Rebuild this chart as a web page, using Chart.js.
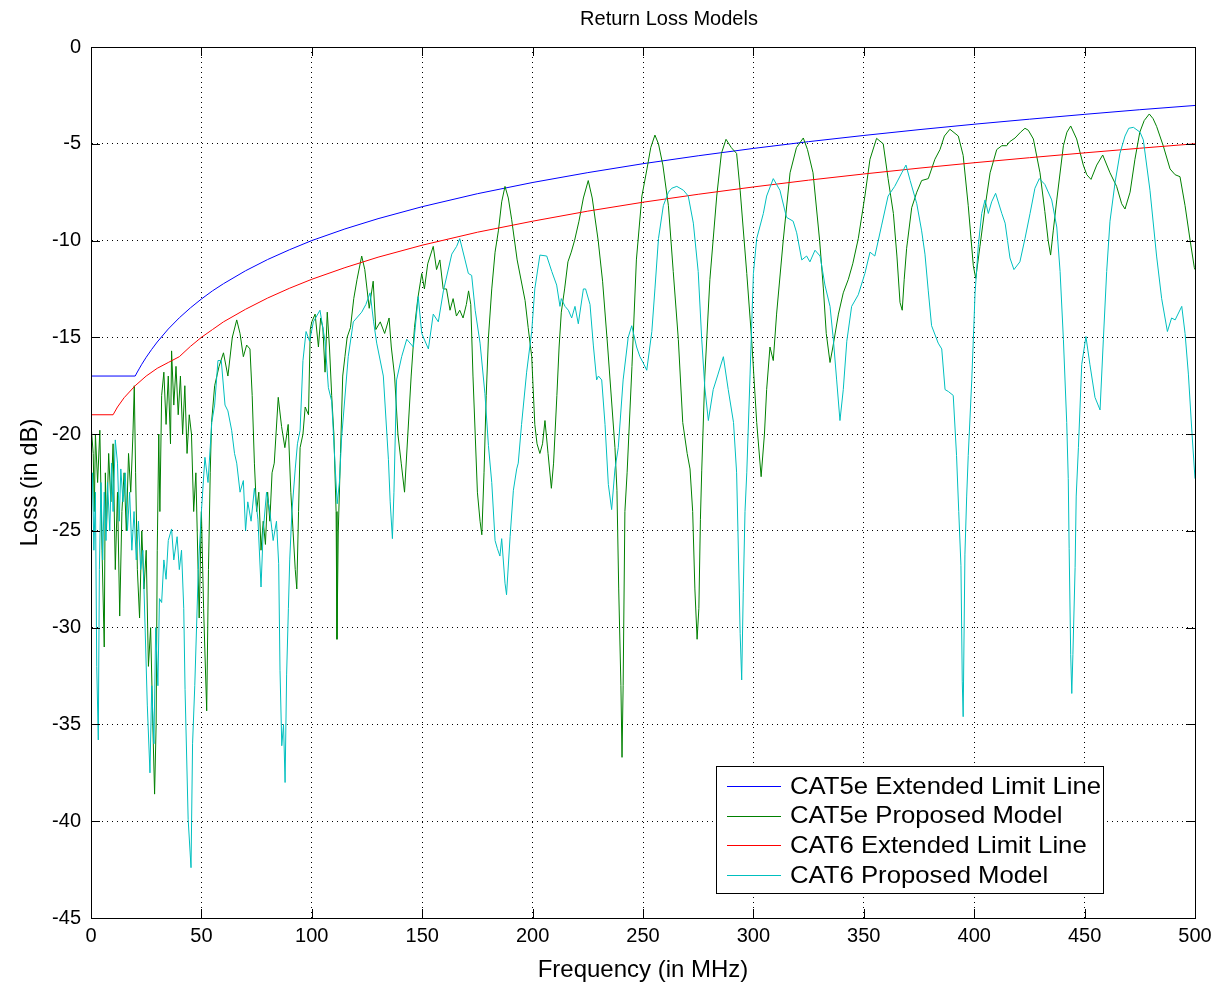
<!DOCTYPE html>
<html>
<head>
<meta charset="utf-8">
<script src="https://cdn.jsdelivr.net/npm/chart.js@4"></script>
<style>
html,body{margin:0;padding:0;background:#fff;}
#wrap{width:1220px;height:987px;position:relative;}
</style>
</head>
<body>
<div id="wrap"><canvas id="c" width="1220" height="987"></canvas></div>
<script>
const chartTitle = "Return Loss Models";
const xTitle = "Frequency (in MHz)";
const yTitle = "Loss (in dB)";
const seriesNames = ["CAT5e Extended Limit Line","CAT5e Proposed Model","CAT6 Extended Limit Line","CAT6 Proposed Model"];
const seriesColors = ["#0000ff","#008000","#ff0000","#00bfbf"];
const xTicks = [0,50,100,150,200,250,300,350,400,450,500];
const yTicks = [0,-5,-10,-15,-20,-25,-30,-35,-40,-45];

// CAT5e limit line
const freq5eLimit = [0,20,21,22,23,25,27.5,30,35,40,45,50,55,60,70,80,90,100,115,130,150,175,200,225,250,275,300,325,350,375,400,425,450,475,500];
const loss5eLimit = [-17,-17,-16.79,-16.59,-16.39,-16.03,-15.62,-15.24,-14.57,-13.99,-13.48,-13.02,-12.6,-12.23,-11.56,-10.98,-10.47,-10.0,-9.4,-8.87,-8.25,-7.58,-7.0,-6.49,-6.03,-5.62,-5.24,-4.89,-4.57,-4.27,-3.99,-3.73,-3.48,-3.24,-3.02];

// CAT6 limit line
const freq6Limit = [0,10,12,15,20,25,30,35,40,45,50,55,60,70,80,90,100,115,130,150,175,200,225,250,275,300,325,350,375,400,425,450,475,500];
const loss6Limit = [-19,-19,-18.6,-18.12,-17.5,-17.0,-16.6,-16.3,-16.0,-15.47,-15.0,-14.6,-14.2,-13.55,-12.97,-12.46,-12.0,-11.4,-10.86,-10.24,-9.57,-9.0,-8.48,-8.02,-7.61,-7.23,-6.88,-6.56,-6.26,-5.98,-5.72,-5.47,-5.23,-5.0];

// CAT5e proposed model
const freq5eModel = [0,1,1.5,2,3,4,5,6,6.5,7,8,9,10,11,12,13,14,15,16,17,18,19,19.6,20.2,21,22,23,24,25,26,27,28,28.8,29.5,30,30.7,31.2,32,33,34,35,36,36.5,37.5,38.5,39.5,40.5,41.5,42.5,43.5,44.5,45.5,46.5,47.5,48.5,49,50,51,52.4,53.2,54,54.6,56,58,60,62,64,66,67.5,69,70.5,72,73,74,75,76,77,78,79,80,81,82,83,84.8,86.3,87.8,89.3,90.5,91.5,92.5,93.2,94,94.7,96,97,98.5,99.3,100,101.5,103,104,105,106,107,108,109,110,111,111.4,112,113,114,115,116,117.5,119,120.5,122.6,124,125,126,127.8,129,131,133,135,136,137.5,139,140.5,142,143.5,145,146.5,148,149.8,151,152.5,155,156.5,158,159.5,161,162.6,164,165.5,167,168.5,170,171,172,173,174,175,176.2,177,178,179,180,181.5,183,184.5,186,187.5,189,190.5,193,196.6,198,199.6,201,202,203.3,204.5,205.6,207,208.5,209.5,211,212,213,214.5,216,217.5,219,221,223,225.2,227,229.7,231.7,234,237.3,238.2,239,240,240.5,241,241.8,242.8,245,247,249.5,251.8,253.5,255.4,257,259,261.5,263.7,266,268,270,271.3,272.5,273.5,274.5,275.3,276,276.6,278,280.3,283.4,285.5,287.6,290,292.4,294,297,299.2,301.5,303.5,305,306,307.5,309,310.5,313.5,316.6,319.5,322.6,324.5,327,330,331.7,333,334.7,336,338.5,340.7,343,345,347.5,350.5,352.8,355.8,358.8,361,363.4,365,366.4,367.4,368.3,369.4,371.7,374,376.2,379.2,382.2,384.5,386.5,389,392.8,395,397.3,399.6,400.7,402.6,405,407.2,410.2,412.5,414.7,416,418.5,421,423,424.5,426.8,429.8,432,433.5,434.6,435.8,437.4,440.4,442,443.7,446.4,449.4,451,452.9,455.5,458.2,461.5,464.5,466.8,468.3,470.6,472.8,475,477,479.3,481,482.6,485.6,488.7,491,493.2,495.5,497.8,499.7,500];
const loss5eModel = [-19.5,-21,-24,-20,-22.5,-19.8,-26,-31,-22,-25,-21,-23.5,-20.5,-27,-23,-29.4,-24,-22,-25,-21,-23,-20,-17.5,-22,-27,-29.5,-25,-28,-26,-32,-30,-35,-38.6,-35,-26,-20,-24,-18,-16.8,-19.5,-17,-20.5,-15.7,-18.5,-16.5,-19,-17,-20,-17.5,-21,-19,-20,-24,-22,-27,-29.5,-24,-29,-34.3,-27,-22,-19.4,-17.5,-16.5,-15.8,-17,-15,-14.1,-14.8,-16,-15.4,-15.6,-18,-21.5,-24,-23,-26,-24.5,-25.7,-23,-24.5,-22,-21.5,-18.1,-19.6,-20.7,-19.5,-23,-25,-27,-28,-24,-20.7,-20,-18.6,-19,-14.6,-14.2,-13.8,-15.5,-14,-14.5,-16.8,-13.7,-15.5,-18,-20,-24,-30.6,-25,-21,-17,-16,-15,-14.5,-13,-12,-10.8,-11.5,-12.5,-13.5,-12.1,-14.6,-14.2,-14.8,-14,-15.5,-17,-20,-21.5,-23,-20,-17,-14.5,-13,-11.7,-12.5,-11.2,-10.3,-11.5,-11,-12.5,-12.5,-13.6,-13,-13.9,-13.6,-14,-13.3,-12.6,-13.3,-17,-20,-23,-24.5,-25.2,-22,-18,-15,-12.5,-10.6,-9.5,-8,-7.2,-7.8,-8.9,-11,-13.1,-14.5,-16,-19.5,-20.5,-21,-20.5,-19.3,-21,-22.8,-21.5,-18,-15.5,-13.7,-12.5,-11.1,-10.6,-10,-9,-7.8,-6.9,-7.8,-10,-12.1,-15.5,-20.7,-22.9,-28,-33,-36.7,-33,-24,-22,-16.5,-11,-7.7,-6.3,-5.2,-4.55,-5,-6.1,-8.2,-11.6,-15.1,-19.4,-21,-21.8,-24,-28,-30.6,-29,-24.4,-21.9,-17,-12,-7.7,-5.5,-4.77,-5.2,-5.5,-7.4,-11.7,-15.1,-19.4,-22.2,-20,-17.7,-15.5,-16.2,-13.8,-10,-6.5,-5.2,-4.7,-5.3,-6.5,-10,-12.5,-14.8,-16.3,-15.5,-13.8,-12.7,-12,-11.2,-9.9,-7.7,-5.8,-4.72,-5,-6.8,-8.6,-10.8,-13.2,-13.6,-12,-10.4,-8.3,-7.5,-6.9,-6.8,-5.8,-5.3,-4.6,-4.25,-4.6,-5.6,-8.2,-11.3,-11.95,-10.3,-8.2,-6.5,-5.3,-5.1,-5.1,-4.9,-4.7,-4.4,-4.2,-4.3,-4.75,-6.5,-8.5,-10,-10.75,-9.5,-7.9,-5.1,-4.4,-4.08,-4.75,-6.1,-6.6,-6.84,-6.1,-5.58,-6.5,-7.2,-8.1,-8.37,-7.5,-5.8,-4.4,-3.8,-3.46,-3.7,-4.1,-5.1,-6.3,-6.6,-6.7,-8.2,-10,-11.4,-11.5];

// CAT6 proposed model
const freq6Model = [0,0.7,1.3,2,2.6,3.3,3.8,4.5,5.3,6,6.8,7.5,8.5,9.3,10,11,12,12.8,13.5,14.5,15.5,16.5,17.5,18.5,19.5,20.5,21.5,22.5,23.5,24.5,25.5,26.7,27.5,28.5,29.3,30.3,31,32,33,34,35,36.5,37.5,39,40,41,42,42.6,44,45.3,46,47,48.6,50,51.6,53,54.7,56,57.5,59,60.7,62,63.7,65,66,67.5,69,70,71,72.5,74,75.6,77,78,79.5,81,82.5,84,85,85.6,86.4,87.2,87.9,88.6,89.4,90,91,92.5,93.5,94.7,96,97.4,99,100.7,103.7,106,107.5,109,110.5,111.5,112.5,113.5,116.5,118.8,122.6,124.5,126.4,128,129.4,132.4,134,134.7,135.5,136.5,137.2,138.4,140.7,143,146,148.2,149.8,152.8,155,157.3,159.6,163.4,165.6,167,169.4,170.9,172.4,174,176.2,178.4,180,181.5,183,184,185.2,186,187.5,188.2,189.8,191.3,192.8,193.5,195,197.3,199.6,201,203.3,206.4,208.7,210.9,212.4,213,214.7,216.2,217.7,219.2,220.7,223,224,226,227.5,229,229.8,231.3,232.8,234.3,235.8,237.3,238.8,241,243.3,244.9,247.1,248.6,250,251.7,254,255.4,257,259.2,261.5,263,265.3,268.3,270.5,272.8,275,276.6,278,279.6,281.8,284,286.4,288.6,291,292.4,293,294,294.7,295.4,296.2,297,298.5,300,301.5,304.5,306,309,312,315,318,319.6,321.9,324.1,325.6,327.9,330.2,332.4,334.7,336.2,337.7,339.2,340.7,342.3,344.5,347.5,350.5,352.8,355,358.1,361,364,367.2,369.1,371,374,376.2,377.7,379.2,380.7,383.7,385.3,386.8,388.3,390.5,392,393,394,394.6,395,395.8,396.6,397.3,398.9,400.4,401.9,403.4,404.9,406.4,407.9,409.7,412.5,414,416.2,418,420.7,423,425.3,427.5,429.5,432,435.1,437.4,438.9,440.4,441.9,442.6,443,443.7,444.2,444.7,445.7,446.2,447.2,448.7,450.6,452.4,454.7,457,458.5,460,461.5,463.8,466,468.3,470,472.1,475.1,476.6,479.6,482.6,484.9,487.5,489.4,491,494,495.5,497,498.6,500];
const loss6Model = [-25,-22,-26,-23,-32,-35.8,-27,-22.5,-26.5,-23,-25.5,-22.5,-25,-21.5,-24,-20.3,-21.5,-24.5,-21.8,-23.5,-22,-25,-23,-26,-24,-26.5,-24.5,-27,-26,-30,-34,-37.5,-33,-36,-30,-33,-28.5,-28.7,-26.5,-27.5,-25.5,-24.9,-26.5,-25.3,-27,-26,-29,-33.2,-39.9,-42.4,-36,-33,-27,-24,-21.2,-22.5,-19.4,-18.5,-16.2,-16.2,-18.5,-18.8,-19.8,-21,-21.5,-23,-22.4,-25,-23.5,-24.5,-22.8,-24.4,-27.9,-25,-23,-24,-25.5,-24.5,-26.7,-32.2,-36.1,-35,-38,-32.4,-29,-26.5,-24,-21.8,-20.5,-19.8,-16.2,-14.7,-15.2,-14.2,-13.6,-15.2,-17.6,-18.3,-21.5,-23.6,-22.5,-20.2,-16,-14.2,-13.7,-13.3,-12.7,-14.2,-15.3,-17,-20,-21.3,-23.5,-25.4,-23,-17.2,-16,-15.1,-15.5,-12.9,-14.8,-15.6,-13.8,-14.2,-12.6,-10.7,-10.3,-9.9,-11,-11.7,-11.8,-13.6,-15.3,-17.9,-20.6,-22.5,-25.5,-25.9,-26.3,-25.4,-27.7,-28.3,-25.3,-22.9,-21.8,-21.5,-19.5,-16.8,-14.7,-12.5,-10.75,-10.8,-11.6,-12.3,-13.4,-13,-13.4,-13.6,-14,-13.4,-14.3,-12.5,-12.5,-13.3,-15.4,-17.2,-17,-17.2,-19.5,-22.6,-23.9,-21.8,-20.7,-17.2,-15,-14.4,-15.5,-16,-16.3,-16.7,-14.7,-12.5,-9.9,-8.2,-7.5,-7.3,-7.2,-7.4,-7.7,-9.1,-11.6,-15.1,-17.6,-19.3,-17.7,-16.9,-16,-17.7,-19.4,-22,-25,-30.3,-32.7,-28.2,-24,-22,-16.9,-11.7,-9.9,-8.6,-7.7,-6.8,-7.4,-8.8,-9,-9.6,-11,-10.8,-11.1,-10.5,-10.8,-12.3,-13.4,-15.1,-17.2,-19.3,-17.7,-15.2,-13.4,-12.8,-11.7,-10.6,-10.8,-9.2,-7.7,-7.2,-6.5,-6.1,-6.9,-8.1,-9.5,-10.7,-12.6,-14.4,-15.3,-15.6,-17.7,-17.8,-18,-21.1,-24,-26.8,-32.8,-34.6,-26.2,-23.2,-21.1,-17.2,-12.7,-10.2,-8.6,-7.9,-8.6,-8,-7.56,-8.6,-9.1,-10.9,-11.5,-11.1,-9.9,-8.6,-7.3,-6.8,-7.1,-7.9,-9.3,-11.6,-15.1,-19.4,-22.3,-25.9,-31.4,-33.4,-31.4,-26.9,-23.2,-20.7,-16.4,-14.96,-16.4,-18.1,-18.75,-15.1,-11.6,-9,-7,-5.5,-4.6,-4.2,-4.15,-4.4,-4.8,-7.4,-10.8,-13,-14.7,-14,-14.1,-13.4,-14.8,-16.9,-19.9,-22.3];

function pts(xs, ys){ return xs.map((x,i)=>({x:x, y:ys[i]})); }

const FONT = 'Arial, "Liberation Sans", Helvetica, sans-serif';

const boxPlugin = {
  id: 'boxPlugin',
  afterDatasetsDraw(chart){
    const ctx = chart.ctx, a = chart.chartArea;
    const xs = chart.scales.x, ys = chart.scales.y;
    ctx.save();
    ctx.setLineDash([]);
    ctx.strokeStyle = '#000';
    ctx.lineWidth = 1;
    // inside tick marks
    const tl = 9;
    ctx.beginPath();
    xTicks.forEach(v=>{
      const px = Math.round(xs.getPixelForValue(v))+0.5;
      ctx.moveTo(px, a.bottom); ctx.lineTo(px, a.bottom - tl);
      ctx.moveTo(px, a.top); ctx.lineTo(px, a.top + tl);
    });
    yTicks.forEach(v=>{
      const py = Math.round(ys.getPixelForValue(v))+0.5;
      ctx.moveTo(a.left, py); ctx.lineTo(a.left + tl, py);
      ctx.moveTo(a.right, py); ctx.lineTo(a.right - tl, py);
    });
    ctx.stroke();
    ctx.strokeRect(Math.round(a.left)+0.5, Math.round(a.top)+0.5, Math.round(a.right-a.left), Math.round(a.bottom-a.top));
    // title
    ctx.fillStyle = '#000';
    ctx.font = '20px ' + FONT;
    ctx.textAlign = 'center';
    ctx.textBaseline = 'middle';
    ctx.fillText(chartTitle, 669, 19);
    // legend
    const lx = 716, ly = 766, lw = 387, lh = 127;
    ctx.fillStyle = '#fff';
    ctx.fillRect(lx, ly, lw, lh);
    ctx.strokeStyle = '#000';
    ctx.strokeRect(lx+0.5, ly+0.5, lw, lh);
    ctx.font = '24px ' + FONT;
    ctx.textBaseline = 'middle';
    ctx.textAlign = 'left';
    const sx = Math.min(1.12, 311 / ctx.measureText(seriesNames[0]).width);
    seriesNames.forEach((name,i)=>{
      const yy = ly + 20 + i*29.7;
      ctx.fillStyle = seriesColors[i];
      ctx.fillRect(727, Math.round(yy), 54, 1);
      ctx.save();
      ctx.translate(790, yy+1);
      ctx.scale(sx, 1);
      ctx.fillStyle = '#000';
      ctx.fillText(name, 0, 0);
      ctx.restore();
    });
    ctx.restore();
  }
};

new Chart(document.getElementById('c'), {
  type: 'scatter',
  data: {
    datasets: [
      {label: seriesNames[0], data: pts(freq5eLimit, loss5eLimit), borderColor: seriesColors[0], order: 3},
      {label: seriesNames[1], data: pts(freq5eModel, loss5eModel), borderColor: seriesColors[1], order: 2},
      {label: seriesNames[2], data: pts(freq6Limit, loss6Limit), borderColor: seriesColors[2], order: 1},
      {label: seriesNames[3], data: pts(freq6Model, loss6Model), borderColor: seriesColors[3], order: 0}
    ].map(d=>Object.assign(d,{showLine:true, pointRadius:0, borderWidth:1, tension:0, fill:false, backgroundColor:d.borderColor}))
  },
  plugins: [boxPlugin],
  options: {
    responsive: false,
    animation: false,
    devicePixelRatio: 1,
    layout: {padding: {left: 0, right: 25, top: 47, bottom: 0}},
    plugins: {
      legend: {display: false},
      tooltip: {enabled: false},
      title: {display: false}
    },
    scales: {
      x: {
        type: 'linear', min: 0, max: 500,
        afterBuildTicks: s => { s.ticks = xTicks.map(v=>({value:v})); },
        afterFit: s => { s.height = 69; },
        ticks: {color:'#000', font:{family: FONT, size: 20}, padding: 6, maxRotation: 0},
        grid: {color: '#000', lineWidth: 1, drawTicks: false},
        border: {display: true, color: '#000', dash: [1,4]},
        title: {display: true, text: xTitle, color:'#000', font:{family: FONT, size: 24}, padding: {top: 0, bottom: 2}}
      },
      y: {
        type: 'linear', min: -45, max: 0,
        afterBuildTicks: s => { s.ticks = yTicks.map(v=>({value:v})); },
        afterFit: s => { s.width = 91; },
        ticks: {color:'#000', font:{family: FONT, size: 20}, padding: 10},
        grid: {color: '#000', lineWidth: 1, drawTicks: false},
        border: {display: true, color: '#000', dash: [1,4]},
        title: {display: true, text: yTitle, color:'#000', font:{family: FONT, size: 24}, padding: {top: 16, bottom: 0}}
      }
    }
  }
});
</script>
</body>
</html>
